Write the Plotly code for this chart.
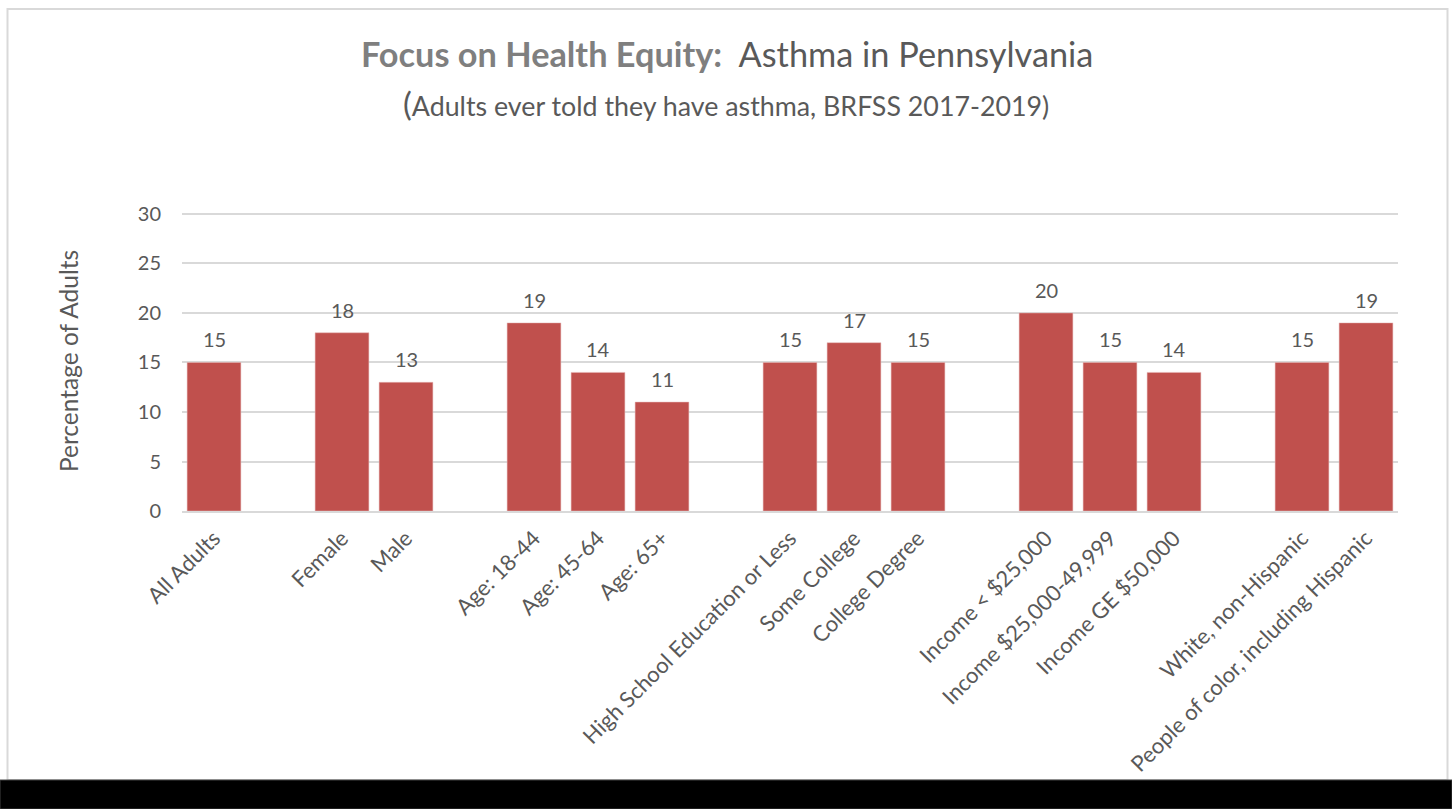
import plotly.graph_objects as go

# Categories (blank entries separate the groups, as in the original workbook)
categories = [
    "All Adults", " ",
    "Female", "Male", "  ",
    "Age: 18-44", "Age: 45-64", "Age: 65+", "   ",
    "High School Education or Less", "Some College", "College Degree", "    ",
    "Income < $25,000", "Income $25,000-49,999", "Income GE $50,000", "     ",
    "White, non-Hispanic", "People of color, including Hispanic",
]
values = [
    15, None,
    18, 13, None,
    19, 14, 11, None,
    15, 17, 15, None,
    20, 15, 14, None,
    15, 19,
]
y_ticks = [0, 5, 10, 15, 20, 25, 30]

FONT = "Lato"
GRAY = "#595959"
BAR = "#C0504D"

# plot-area pixel geometry (y range padded slightly so the 30 gridline shows)
Y_MAX = 30.3
L, R, B = 182, 1398, 511
T = B - 297 * Y_MAX / 30
W, H = R - L, B - T

fig = go.Figure()
fig.add_trace(go.Bar(
    x=categories,
    y=values,
    marker=dict(color=BAR, line=dict(color="#E6B9B8", width=0.5)),
    hoverinfo="x+y",
))

# value labels above each bar
for cat, val in zip(categories, values):
    if val is None:
        continue
    fig.add_annotation(
        x=cat, y=val, text=str(val), showarrow=False,
        yanchor="bottom", yshift=9,
        font=dict(family=FONT, size=20, color=GRAY),
    )

fig.update_layout(
    width=1452, height=809,
    margin=dict(l=L, r=1452 - R, t=T, b=809 - B),
    paper_bgcolor="white", plot_bgcolor="white",
    bargap=0.16,
    showlegend=False,
    font=dict(family=FONT, color=GRAY),
    xaxis=dict(
        type="category",
        tickangle=-45,
        tickfont=dict(family=FONT, size=22, color=GRAY),
        ticklabelstandoff=4,
        showgrid=False,
        showline=True, linecolor="#D9D9D9", linewidth=1.5,
        ticks="",
    ),
    yaxis=dict(
        range=[0, Y_MAX],
        tickvals=y_ticks,
        tickfont=dict(family=FONT, size=20, color=GRAY),
        ticklabelstandoff=20,
        showgrid=True, gridcolor="#D9D9D9", gridwidth=1.5,
        zeroline=False,
        showline=False,
        ticks="",
        title=dict(text="Percentage of Adults",
                   font=dict(family=FONT, size=24.5, color=GRAY),
                   standoff=52),
    ),
)

# title and subtitle
fig.add_annotation(
    xref="paper", yref="paper",
    x=(727 - L) / W, y=(B - 54) / H,
    showarrow=False, xanchor="center", yanchor="middle",
    text="<span style='color:#7F7F7F'><b>Focus on Health Equity:</b></span>  Asthma in Pennsylvania",
    font=dict(family=FONT, size=34.3, color=GRAY),
)
fig.add_annotation(
    xref="paper", yref="paper",
    x=(726 - L) / W, y=(B - 103) / H,
    showarrow=False, xanchor="center", yanchor="middle",
    text="<span style='font-size:33px'>(</span>Adults ever told they have asthma, BRFSS 2017-2019)",
    font=dict(family=FONT, size=26.8, color=GRAY),
)

# chart frame and dark band along the bottom
fig.add_shape(type="rect", xref="paper", yref="paper",
              x0=(7.5 - L) / W, x1=(1447.5 - L) / W,
              y0=(B - 780) / H, y1=(B - 9) / H,
              line=dict(color="#D9D9D9", width=2), fillcolor="rgba(0,0,0,0)", layer="below")
fig.add_shape(type="rect", xref="paper", yref="paper",
              x0=(0 - L) / W, x1=(1452 - L) / W,
              y0=(B - 809) / H, y1=(B - 780) / H,
              line=dict(color="#404040", width=1), fillcolor="black", layer="above")

fig.write_html("out.html")
